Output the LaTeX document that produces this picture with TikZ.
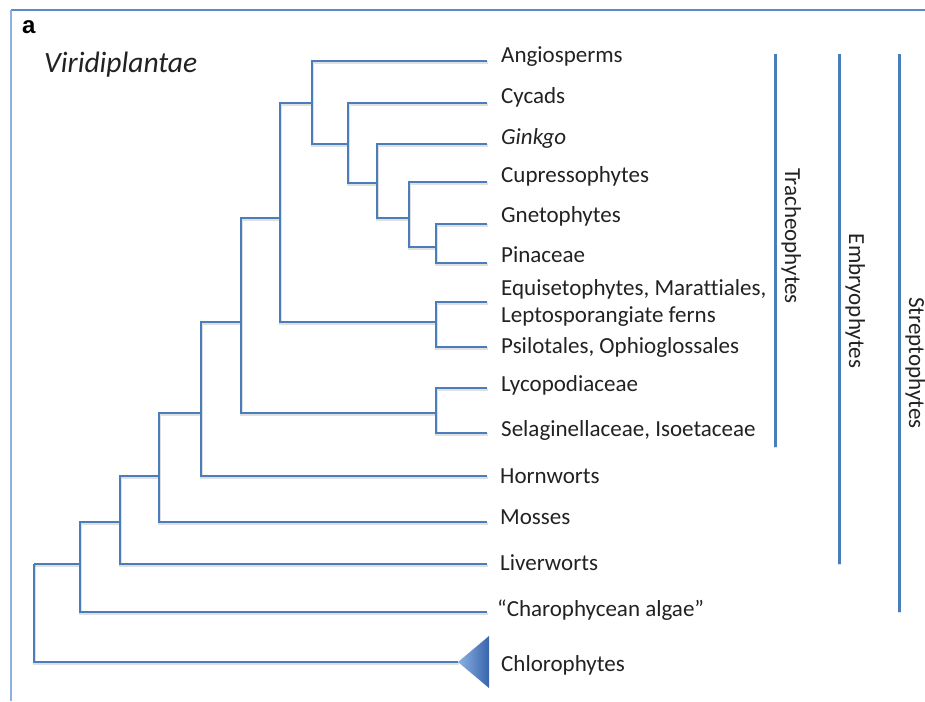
\documentclass[tikz,border=0pt]{standalone}
\usepackage{fontspec}
\setmainfont{Carlito}[Ligatures={TeX,NoCommon}]
\newfontfamily\arialfont{Liberation Sans}
\definecolor{treeblue}{RGB}{74,126,187}
\definecolor{frametop}{RGB}{90,138,206}
\definecolor{frameleft}{RGB}{140,176,224}
\definecolor{tritip}{RGB}{140,178,228}
\definecolor{tribase}{RGB}{56,100,172}
\definecolor{txt}{RGB}{34,34,34}
\tikzset{
  branch/.style={draw=treeblue, line width=2.8pt, line join=miter,
    preaction={draw=black, draw opacity=0.12, line width=2.8pt, transform canvas={xshift=0.8pt,yshift=-1.4pt}}},
  cladebar/.style={draw=treeblue, line width=3pt,
    preaction={draw=black, draw opacity=0.12, line width=3pt, transform canvas={xshift=0.8pt,yshift=-1.4pt}}},
  leaf/.style={anchor=base west, inner sep=0pt, text=txt, font=\fontsize{23}{27}\selectfont},
  clade/.style={anchor=base, inner sep=0pt, rotate=-90, text=txt, font=\fontsize{23}{27}\selectfont},
}
\begin{document}
\begin{tikzpicture}[x=1pt,y=-1pt]
\useasboundingbox (0,0) rectangle (925,701);
\fill[white] (0,0) rectangle (925,701);
% frame
\coordinate (fc) at (11,10);
\coordinate (fr) at (925,10);
\coordinate (fb) at (11,701);
\draw[frametop, line width=2pt] (fc) -- (fr);
\draw[frameleft, line width=2pt] (fc) -- (fb);

% headings
\node[anchor=base west, inner sep=0pt, font=\arialfont\bfseries\fontsize{24}{28}\selectfont] (panel) at (22,34) {a};
\node[anchor=base west, inner sep=0pt, text=txt, font=\itshape\fontsize{29.5}{34}\selectfont] (title) at (44,72) {Viridiplantae};

% internal nodes (x of vertical, y where parent attaches)
\coordinate (root)  at (34,564);
\coordinate (nStr)  at (80,564);
\coordinate (nEmb)  at (120,522);
\coordinate (nMos)  at (159,476);
\coordinate (nHor)  at (201,413);
\coordinate (nTra)  at (241,322);
\coordinate (nLyc)  at (436,413);
\coordinate (nEup)  at (280,218);
\coordinate (nFer)  at (436,322);
\coordinate (nSee)  at (312,103);
\coordinate (nGym)  at (348,144);
\coordinate (nC)    at (377,183);
\coordinate (nD)    at (409,218);
\coordinate (nE)    at (436,247);

% leaf tips
\coordinate (tAng) at (487,61);
\coordinate (tCyc) at (487,103);
\coordinate (tGin) at (487,144);
\coordinate (tCup) at (487,182);
\coordinate (tGne) at (487,224);
\coordinate (tPin) at (487,263);
\coordinate (tEqu) at (487,302);
\coordinate (tPsi) at (487,347);
\coordinate (tLyc) at (487,388);
\coordinate (tSel) at (487,433);
\coordinate (tHor) at (487,476);
\coordinate (tMos) at (487,522);
\coordinate (tLiv) at (487,564);
\coordinate (tCha) at (487,612);
\coordinate (tChl) at (458,662);

% branches
\draw[branch] (root) |- (nStr);
\draw[branch] (root) |- (tChl);
\draw[branch] (nStr) |- (nEmb);
\draw[branch] (nStr) |- (tCha);
\draw[branch] (nEmb) |- (nMos);
\draw[branch] (nEmb) |- (tLiv);
\draw[branch] (nMos) |- (nHor);
\draw[branch] (nMos) |- (tMos);
\draw[branch] (nHor) |- (nTra);
\draw[branch] (nHor) |- (tHor);
\draw[branch] (nTra) |- (nEup);
\draw[branch] (nTra) |- (nLyc);
\draw[branch] (nLyc) |- (tLyc);
\draw[branch] (nLyc) |- (tSel);
\draw[branch] (nEup) |- (nSee);
\draw[branch] (nEup) |- (nFer);
\draw[branch] (nFer) |- (tEqu);
\draw[branch] (nFer) |- (tPsi);
\draw[branch] (nSee) |- (tAng);
\draw[branch] (nSee) |- (nGym);
\draw[branch] (nGym) |- (tCyc);
\draw[branch] (nGym) |- (nC);
\draw[branch] (nC) |- (tGin);
\draw[branch] (nC) |- (nD);
\draw[branch] (nD) |- (tCup);
\draw[branch] (nD) |- (nE);
\draw[branch] (nE) |- (tGne);
\draw[branch] (nE) |- (tPin);

% collapsed clade triangle
\coordinate (triT) at (489,636);
\coordinate (triB) at (489,688);
\shade[left color=tritip, right color=tribase] (tChl) -- (triT) -- (triB) -- cycle;

% leaf labels
\node[leaf] (lAng) at (501,62.6) {Angiosperms};
\node[leaf] (lCyc) at (501,103.8) {Cycads};
\node[leaf] (lGin) at (501,144) {\itshape Ginkgo};
\node[leaf] (lCup) at (501,182.5) {Cupressophytes};
\node[leaf] (lGne) at (501,222.7) {Gnetophytes};
\node[leaf] (lPin) at (501,262.5) {Pinaceae};
\node[leaf] (lEqu) at (501,295) {Equisetophytes, Marattiales,};
\node[leaf] (lLep) at (501,322) {Leptosporangiate ferns};
\node[leaf] (lPsi) at (501,353) {Psilotales, Ophioglossales};
\node[leaf] (lLyc) at (501,391) {Lycopodiaceae};
\node[leaf] (lSel) at (501,436) {Selaginellaceae, Isoetaceae};
\node[leaf] (lHor) at (500,483) {Hornworts};
\node[leaf] (lMos) at (500,524) {Mosses};
\node[leaf] (lLiv) at (500,570) {Liverworts};
\node[leaf] (lCha) at (497,616) {“Charophycean algae”};
\node[leaf] (lChl) at (501,671) {Chlorophytes};

% clade bars
\coordinate (trT) at (775,54);
\coordinate (trB) at (775,447);
\coordinate (emT) at (839,54);
\coordinate (emB) at (839,564);
\coordinate (stT) at (899,54);
\coordinate (stB) at (899,612);
\draw[cladebar] (trT) -- (trB);
\draw[cladebar] (emT) -- (emB);
\draw[cladebar] (stT) -- (stB);
\node[clade] (cTra) at (785,236) {Tracheophytes};
\node[clade] (cEmb) at (849,301) {Embryophytes};
\node[clade] (cStr) at (909,363) {Streptophytes};
\end{tikzpicture}
\end{document}
